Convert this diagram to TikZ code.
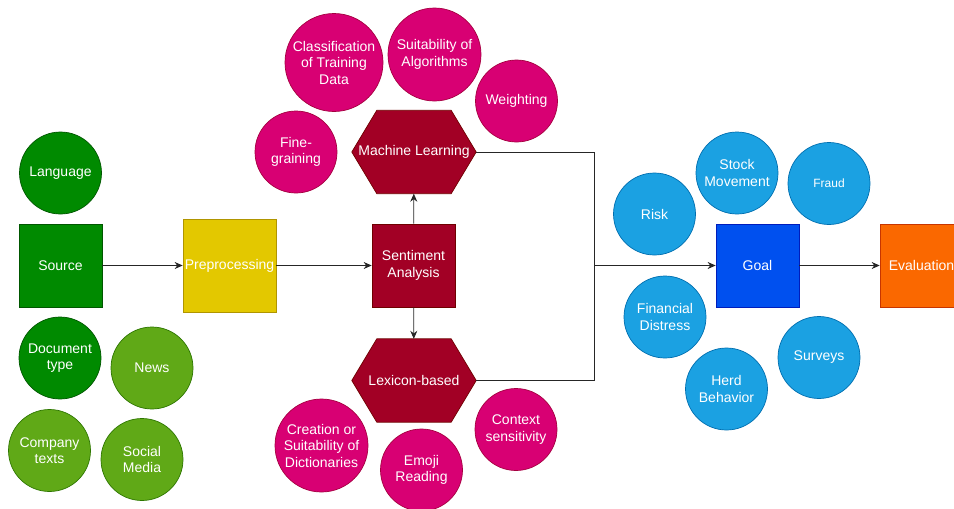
\documentclass[tikz,border=0pt]{standalone}
\usepackage{fontspec}
\setmainfont{Liberation Sans}
\usepackage{tikz}
\usetikzlibrary{arrows.meta,backgrounds}

\definecolor{srcgreen}{HTML}{008A00}
\definecolor{srcgreenline}{HTML}{005700}
\definecolor{leafgreen}{HTML}{60A917}
\definecolor{leafgreenline}{HTML}{2D7600}
\definecolor{prepyellow}{HTML}{E3C800}
\definecolor{prepyellowline}{HTML}{B09500}
\definecolor{wine}{HTML}{A20025}
\definecolor{wineline}{HTML}{6F0000}
\definecolor{magenta2}{HTML}{D80073}
\definecolor{magentaline}{HTML}{A50040}
\definecolor{skyblue}{HTML}{1BA1E2}
\definecolor{skyblueline}{HTML}{006EAF}
\definecolor{goalblue}{HTML}{0050EF}
\definecolor{goalblueline}{HTML}{001DBC}
\definecolor{evalorange}{HTML}{FA6800}
\definecolor{evalorangeline}{HTML}{C73500}

\begin{document}
\begin{tikzpicture}[x=1pt, y=-1pt,
  txt/.style = {text = white, align = center, font = \fontsize{14}{16.5}\selectfont},
  box/.style = {txt, draw, shape = rectangle, line width = 0.7pt, minimum width = 83pt, minimum height = 83pt, inner sep = 0pt},
  blob/.style = {txt, draw, shape = circle, line width = 0.7pt, minimum size = 82pt, inner sep = 0pt},
  hexa/.style = {txt, shape = rectangle, minimum width = 124pt, minimum height = 83pt, inner sep = 0pt},
  hexfill/.style = {draw = wineline, fill = wine, line width = 0.7pt},
  src/.style = {fill = srcgreen, draw = srcgreenline},
  leaf/.style = {fill = leafgreen, draw = leafgreenline},
  ml/.style = {fill = magenta2, draw = magentaline},
  aim/.style = {fill = skyblue, draw = skyblueline},
  link/.style = {draw = black!85, line width = 0.8pt},
  arr/.style = {link, -{Stealth[length = 8pt, width = 7pt]}}]

\useasboundingbox (0,0) rectangle (954,509);

% source side
\node[box, src] (source) at (60.5,265.5) {Source};
\node[blob, src] (lang) at (60.5,173) {Language};
\node[blob, src] (doctype) at (60,358) {Document\\type};
\node[blob, leaf] (news) at (152,368) {News};
\node[blob, leaf] (company) at (49.5,450.5) {Company\\texts};
\node[blob, leaf] (social) at (142,459.5) {Social\\Media};

\node[box, fill = prepyellow, draw = prepyellowline, minimum width = 93pt, minimum height = 93pt] (prep) at (229.5,265.5) {Preprocessing};

% sentiment analysis
\node[box, fill = wine, draw = wineline] (sa) at (413.5,265.5) {Sentiment\\Analysis};
\node[hexa] (mlearn) at (414,152) {Machine Learning};
\node[hexa] (lex) at (414,380.5) {Lexicon-based};
\begin{scope}[on background layer]
\foreach \h in {mlearn, lex}
  \path[hexfill] (\h.west) -- ([xshift=25pt]\h.north west) -- ([xshift=-25pt]\h.north east)
    -- (\h.east) -- ([xshift=-25pt]\h.south east) -- ([xshift=25pt]\h.south west) -- cycle;
\end{scope}

\node[blob, ml, minimum size = 98pt] (classif) at (334,62.5) {Classification\\of Training\\Data};
\node[blob, ml, minimum size = 93pt] (suitalg) at (434.5,54.5) {Suitability of\\Algorithms};
\node[blob, ml] (weight) at (516.5,101) {Weighting};
\node[blob, ml] (fine) at (296,152) {Fine-\\graining};
\node[blob, ml, minimum size = 93pt] (dict) at (321.5,445.5) {Creation or\\Suitability of\\Dictionaries};
\node[blob, ml] (emoji) at (421.5,470) {Emoji\\Reading};
\node[blob, ml] (context) at (516,429.5) {Context\\sensitivity};

% goal side
\node[box, fill = goalblue, draw = goalblueline] (goal) at (757.5,265.5) {Goal};
\node[box, fill = evalorange, draw = evalorangeline] (eval) at (921.5,265.5) {Evaluation};
\node[blob, aim] (risk) at (654.5,214) {Risk};
\node[blob, aim] (stock) at (737,173) {Stock\\Movement};
\node[blob, aim, font = \fontsize{12}{14}\selectfont] (fraud) at (829,183.5) {Fraud};
\node[blob, aim] (distress) at (665,317) {Financial\\Distress};
\node[blob, aim] (herd) at (726.5,389) {Herd\\Behavior};
\node[blob, aim] (surveys) at (819,357.5) {Surveys};

\coordinate (join) at (594,265.5);

\draw[arr] (source) -- (prep);
\draw[arr] (prep) -- (sa);
\draw[arr] (sa) -- (mlearn);
\draw[arr] (sa) -- (lex);
\draw[link] (mlearn.east) -| (join);
\draw[link] (lex.east) -| (join);
\draw[arr, line width = 1.2pt] (join) -- (goal);
\draw[arr] (goal) -- (eval);
\end{tikzpicture}
\end{document}
